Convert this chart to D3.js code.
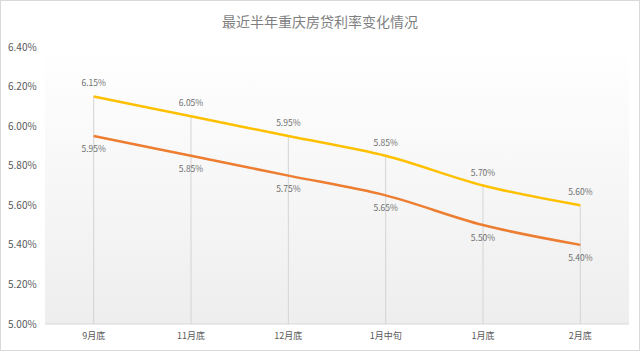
<!DOCTYPE html>
<html>
<head>
<meta charset="utf-8">
<script src="https://cdn.jsdelivr.net/npm/d3@7"></script>
<style>
body { margin: 0; background: #fff; }
text { font-family: "Noto Sans CJK SC", "Open Sans", sans-serif; }
</style>
</head>
<body>
<div id="chart-area"></div>
<script>
var categories = ["9月底", "11月底", "12月底", "1月中旬", "1月底", "2月底"];
var upperRates = [6.15, 6.05, 5.95, 5.85, 5.70, 5.60];
var lowerRates = [5.95, 5.85, 5.75, 5.65, 5.50, 5.40];
var yTicks = [5.0, 5.2, 5.4, 5.6, 5.8, 6.0, 6.2, 6.4];
var title = "最近半年重庆房贷利率变化情况";

var W = 640, H = 351;
var margin = { left: 45, right: 11, top: 47, bottom: 27 };
var width = W - margin.left - margin.right;
var height = H - margin.top - margin.bottom;

var svg = d3.select("#chart-area").append("svg")
    .attr("width", W)
    .attr("height", H);

// outer frame
svg.append("rect")
    .attr("x", 0.5).attr("y", 0.5)
    .attr("width", W - 1).attr("height", H - 1)
    .attr("fill", "#fff")
    .attr("stroke", "#d9d9d9");

var grad = svg.append("defs").append("linearGradient")
    .attr("id", "bg").attr("x1", 0).attr("y1", 0).attr("x2", 0).attr("y2", 1);
grad.append("stop").attr("offset", "0%").attr("stop-color", "#ffffff");
grad.append("stop").attr("offset", "100%").attr("stop-color", "#eeeeee");

var g = svg.append("g")
    .attr("transform", "translate(" + margin.left + ", " + margin.top + ")");

g.append("rect")
    .attr("width", width)
    .attr("height", height)
    .attr("fill", "url(#bg)");

var x = d3.scaleBand()
    .domain(categories)
    .range([0, width]);
var y = d3.scaleLinear()
    .domain([5.0, 6.4])
    .range([height, 0]);

var cx = function(i) { return x(categories[i]) + x.bandwidth() / 2; };

// bottom axis line
g.append("line")
    .attr("x1", 0).attr("x2", width)
    .attr("y1", height).attr("y2", height)
    .attr("stroke", "#d9d9d9");

// drop lines
g.selectAll(".drop").data(upperRates).enter().append("line")
    .attr("class", "drop")
    .attr("x1", (d, i) => cx(i)).attr("x2", (d, i) => cx(i))
    .attr("y1", d => y(d)).attr("y2", height)
    .attr("stroke", "#d4d4d4")
    .attr("stroke-width", 1);

// y tick labels
svg.selectAll(".ytick").data(yTicks).enter().append("text")
    .attr("class", "ytick")
    .attr("x", 8)
    .attr("y", d => margin.top + y(d))
    .attr("dy", "0.35em")
    .attr("font-size", "10px")
    .attr("fill", "#595959")
    .text(d => d.toFixed(2) + "%");

// x labels
g.selectAll(".xlabel").data(categories).enter().append("text")
    .attr("class", "xlabel")
    .attr("x", (d, i) => cx(i))
    .attr("y", height + 15)
    .attr("text-anchor", "middle")
    .attr("font-size", "9px")
    .attr("fill", "#595959")
    .text(d => d);

var line = d3.line()
    .x((d, i) => cx(i))
    .y(d => y(d))
    .curve(d3.curveCatmullRom.alpha(0.5));

g.append("path").datum(lowerRates)
    .attr("d", line)
    .attr("fill", "none")
    .attr("stroke", "#ed7d31")
    .attr("stroke-width", 2.5);

g.append("path").datum(upperRates)
    .attr("d", line)
    .attr("fill", "none")
    .attr("stroke", "#ffc000")
    .attr("stroke-width", 2.5);

g.selectAll(".ulabel").data(upperRates).enter().append("text")
    .attr("class", "ulabel")
    .attr("x", (d, i) => cx(i))
    .attr("y", d => y(d) - 10)
    .attr("text-anchor", "middle")
    .attr("font-size", "8.5px")
    .attr("fill", "#6f6f6f")
    .text(d => d.toFixed(2) + "%");

g.selectAll(".llabel").data(lowerRates).enter().append("text")
    .attr("class", "llabel")
    .attr("x", (d, i) => cx(i))
    .attr("y", d => y(d) + 16)
    .attr("text-anchor", "middle")
    .attr("font-size", "8.5px")
    .attr("fill", "#6f6f6f")
    .text(d => d.toFixed(2) + "%");

svg.append("text")
    .attr("x", W / 2)
    .attr("y", 27)
    .attr("text-anchor", "middle")
    .attr("font-size", "14px")
    .attr("fill", "#7f7f7f")
    .text(title);
</script>
</body>
</html>
